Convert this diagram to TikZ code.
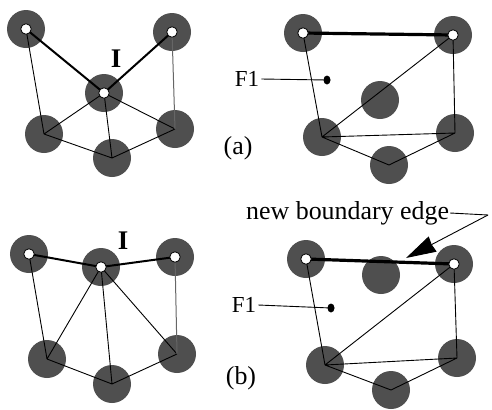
\documentclass[tikz,border=0pt]{standalone}
\usepackage{fontspec}
\setmainfont{Liberation Serif}
\usetikzlibrary{arrows.meta,shapes.geometric}
\definecolor{vfill}{gray}{0.31}
\tikzset{
  x=1bp,y=-1bp,
  vert/.style={circle,fill=vfill,inner sep=0pt,minimum size=38bp},
  hole/.style={circle,fill=white,draw=black,line width=0.8bp,inner sep=0pt,minimum size=10.5bp},
  edge/.style={black,line width=0.9bp},
  bedge/.style={black,line width=2bp},
  hedge/.style={black,line width=3.2bp},
  gedge/.style={black!60,line width=1bp},
  lbl/.style={font=\fontsize{26}{30}\selectfont,inner sep=1bp},
  flbl/.style={font=\fontsize{23}{28}\selectfont,inner sep=2bp},
  ilbl/.style={font=\fontsize{27}{30}\selectfont\bfseries,inner sep=0pt},
  dot/.style={ellipse,fill=black,inner sep=0pt,minimum width=7bp,minimum height=9bp},
  lead/.style={black,line width=0.9bp},
}
\begin{document}
\begin{tikzpicture}
\useasboundingbox (0,0) rectangle (492,409);
% top left
\node[vert] (a1) at (26,29) {};
\node[vert] (a2) at (172,32) {};
\node[vert] (a3) at (104,93) {};
\node[vert] (a4) at (44,134) {};
\node[vert] (a5) at (112,158) {};
\node[vert] (a6) at (175,129) {};
\draw[edge] (a1.center)--(a4.center) (a4.center)--(a3.center) (a3.center)--(a5.center) (a3.center)--(a6.center) (a4.center)--(a5.center) (a5.center)--(a6.center);
\draw[gedge] (a2.center)--(a6.center);
\draw[bedge] (a1.center)--(a3.center) (a3.center)--(a2.center);
\node[hole] at (a1) {}; \node[hole] at (a2) {}; \node[hole] at (a3) {};
\node[ilbl] (ia) at (116,59) {I};
% top right
\node[vert] (b1) at (303,33) {};
\node[vert] (b2) at (453,35) {};
\node[vert] (b3) at (380,100) {};
\node[vert] (b4) at (322,137) {};
\node[vert] (b5) at (389,165) {};
\node[vert] (b6) at (455,133) {};
\draw[edge] (b1.center)--(b4.center) (b2.center)--(b4.center) (b2.center)--(b6.center) (b4.center)--(b6.center) (b4.center)--(b5.center) (b5.center)--(b6.center);
\draw[hedge] (b1.center)--(b2.center);
\node[hole] at (b1) {}; \node[hole] at (b2) {};
\node[flbl] (fa) at (247,79) {F1};
\node[dot] (da) at (327,80) {};
\draw[lead] (fa.east)--(da.center);
\node[lbl] (la) at (238,148) {(a)};
% bottom left
\node[vert] (c1) at (29,254) {};
\node[vert] (c2) at (175,257) {};
\node[vert] (c3) at (101,267) {};
\node[vert] (c4) at (47,359) {};
\node[vert] (c5) at (112,384) {};
\node[vert] (c6) at (177,354) {};
\draw[edge] (c1.center)--(c4.center) (c3.center)--(c4.center) (c3.center)--(c5.center) (c3.center)--(c6.center) (c4.center)--(c5.center) (c5.center)--(c6.center);
\draw[gedge] (c2.center)--(c6.center);
\draw[bedge] (c1.center)--(c3.center) (c3.center)--(c2.center);
\node[hole] at (c1) {}; \node[hole] at (c2) {}; \node[hole] at (c3) {};
\node[ilbl] (ib) at (123,241) {I};
% bottom right
\node[vert] (d3) at (381,275) {};
\node[vert] (d1) at (306,259) {};
\node[vert] (d2) at (454,264) {};
\node[vert] (d4) at (325,365) {};
\node[vert] (d5) at (391,390) {};
\node[vert] (d6) at (457,358) {};
\draw[edge] (d1.center)--(d4.center) (d2.center)--(d4.center) (d2.center)--(d6.center) (d4.center)--(d6.center) (d4.center)--(d5.center) (d5.center)--(d6.center);
\draw[hedge] (d1.center)--(d2.center);
\node[hole] at (d1) {}; \node[hole] at (d2) {};
\node[flbl] (fb) at (244,305) {F1};
\node[dot] (db) at (331,308) {};
\draw[lead] (fb.east)--(db.center);
\node[lbl] (lb) at (241,378) {(b)};
\node[lbl,anchor=west] (nb) at (245,213) {new boundary edge};
\coordinate (j) at (488,215);
\coordinate (tip) at (406,258);
\draw[lead] (nb.east)--(j);
\draw[lead,-{Stealth[length=30bp,width=17bp,inset=1bp]}] (j)--(tip);
\end{tikzpicture}
\end{document}
